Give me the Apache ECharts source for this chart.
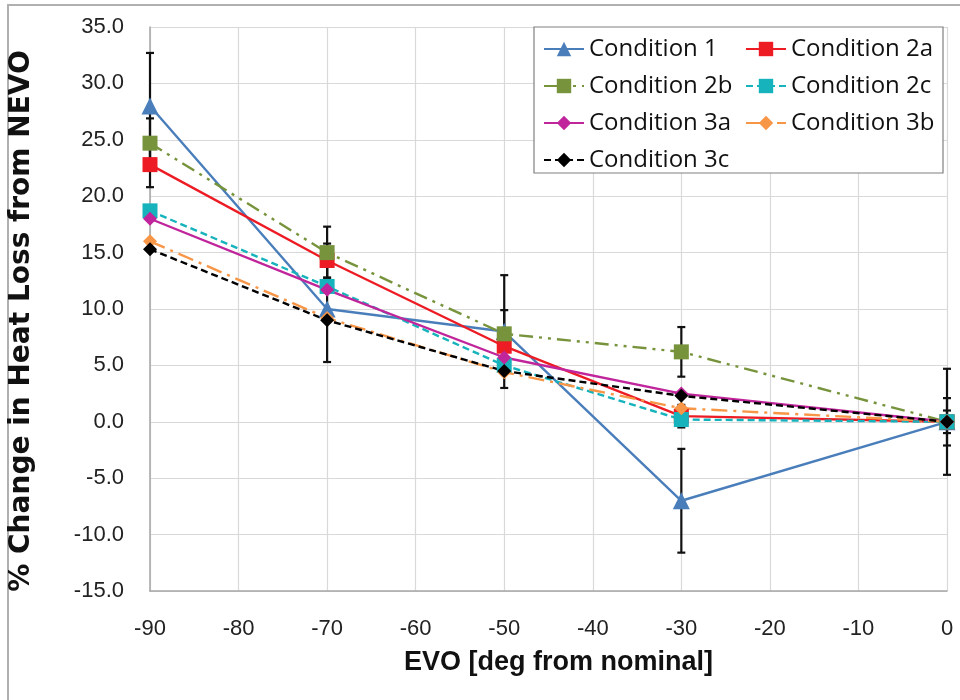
<!DOCTYPE html>
<html><head><meta charset="utf-8">
<script src="https://cdn.jsdelivr.net/npm/echarts@6/dist/echarts.min.js"></script>
<style>html,body{margin:0;padding:0;background:#fff}#c{width:960px;height:700px}</style>
</head><body><div id="c"></div>
<script>
const xValues = [-90, -70, -50, -30, 0];
const cond1  = [28.0, 10.0, 8.0, -7.0, 0.0];
const cond2a = [22.8, 14.3, 6.7, 0.5, 0.0];
const cond2b = [24.7, 15.0, 7.8, 6.2, 0.0];
const cond2c = [18.7, 12.0, 5.0, 0.2, 0.0];
const cond3a = [18.0, 11.7, 5.7, 2.5, 0.0];
const cond3b = [16.0, 9.2, 4.4, 1.2, 0.0];
const cond3c = [15.3, 9.0, 4.5, 2.3, 0.0];
const err1  = [4.7, 4.7, 5.0, 4.6, 4.7];
const err2a = [2.0, 1.5, 1.2, 1.0, 1.0];
const err2b = [2.2, 2.3, 2.1, 2.2, 2.1];

const FONT = "'Liberation Sans', 'DejaVu Sans', sans-serif";

function pts(ys){ return xValues.map((x,i)=>[x, ys[i]]); }
function errPts(ys, es){ return xValues.map((x,i)=>[x, ys[i], es[i]]); }

function lineSeries(name, ys, color, symbol, size, type){
  return {
    name, type:'line', data: pts(ys), symbol, symbolSize: size,
    lineStyle:{color, width:2.4, type},
    itemStyle:{color, borderWidth:0},
    z: 3, animation:false
  };
}

function errSeries(ys, es){
  return {
    type:'custom', data: errPts(ys, es), z: 2, silent:true, animation:false,
    renderItem(params, api){
      const x = api.value(0), y = api.value(1), e = api.value(2);
      const top = api.coord([x, y + e]);
      const bot = api.coord([x, y - e]);
      const hw = 4;
      const st = {stroke:'#111', lineWidth:2.2};
      return {type:'group', children:[
        {type:'line', shape:{x1:top[0], y1:top[1], x2:bot[0], y2:bot[1]}, style:st},
        {type:'line', shape:{x1:top[0]-hw, y1:top[1], x2:top[0]+hw, y2:top[1]}, style:st},
        {type:'line', shape:{x1:bot[0]-hw, y1:bot[1], x2:bot[0]+hw, y2:bot[1]}, style:st}
      ]};
    }
  };
}

const chart = echarts.init(document.getElementById('c'));
const legendCommon = {
  orient:'vertical', itemWidth:40, itemHeight:18, itemGap:9, z:20,
  textStyle:{fontFamily:"'Open Sans', sans-serif", fontSize:24, color:'#111', lineHeight:28},
  backgroundColor:'transparent'
};
chart.setOption({
  animation:false,
  backgroundColor:'#fff',
  graphic:{elements:[
    {type:'rect', z:-10, shape:{x:8, y:5, width:1000, height:1000}, style:{fill:'none', stroke:'#b0b0b0', lineWidth:2}},
    {type:'rect', z:10, shape:{x:534, y:27, width:409, height:146}, style:{fill:'#fff', stroke:'#808080', lineWidth:1.2}}
  ]},
  grid:{left:150, right:13, top:27, bottom:109},
  xAxis:{
    type:'value', min:-90, max:0, interval:10,
    name:'EVO [deg from nominal]', nameLocation:'middle', nameGap:58,
    nameTextStyle:{fontFamily:FONT, fontSize:27, fontWeight:'bold', color:'#111', padding:[0,0,0,20]},
    axisLine:{show:true, onZero:false, lineStyle:{color:'#a6a6a6', width:1.5}},
    axisTick:{show:false},
    axisLabel:{margin:27, fontFamily:FONT, fontSize:22, color:'#222'},
    splitLine:{show:true, lineStyle:{color:'#d9d9d9', width:1.2}}
  },
  yAxis:{
    type:'value', min:-15, max:35, interval:5,
    name:'% Change in Heat Loss from NEVO', nameLocation:'middle', nameGap:114, nameRotate:90,
    nameTextStyle:{fontFamily:"'DejaVu Sans', sans-serif", fontSize:28, fontWeight:'bold', color:'#111', padding:[0,24,0,0]},
    axisLine:{show:true, onZero:false, lineStyle:{color:'#a6a6a6', width:1.5}},
    axisTick:{show:false},
    axisLabel:{margin:26, fontFamily:FONT, fontSize:22, color:'#222', formatter:v=>v.toFixed(1)},
    splitLine:{show:true, lineStyle:{color:'#d9d9d9', width:1.2}}
  },
  legend:[
    Object.assign({left:538, top:30, data:['Condition 1','Condition 2b','Condition 3a','Condition 3c']}, legendCommon),
    Object.assign({left:740, top:30, data:['Condition 2a','Condition 2c','Condition 3b']}, legendCommon)
  ],
  series:[
    errSeries(cond1, err1),
    errSeries(cond2a, err2a),
    errSeries(cond2b, err2b),
    lineSeries('Condition 1', cond1, '#4a7ebb', 'triangle', 17, 'solid'),
    lineSeries('Condition 2a', cond2a, '#ed1c24', 'rect', 15, 'solid'),
    lineSeries('Condition 2b', cond2b, '#77933c', 'rect', 15, [14,6,3,6,3,6]),
    lineSeries('Condition 2c', cond2c, '#17b3bd', 'rect', 15, [7,4]),
    lineSeries('Condition 3a', cond3a, '#c0259b', 'diamond', 14, 'solid'),
    lineSeries('Condition 3b', cond3b, '#f79646', 'diamond', 14, [16,6,3,6]),
    lineSeries('Condition 3c', cond3c, '#000000', 'diamond', 14, [7,4])
  ]
});
</script></body></html>
